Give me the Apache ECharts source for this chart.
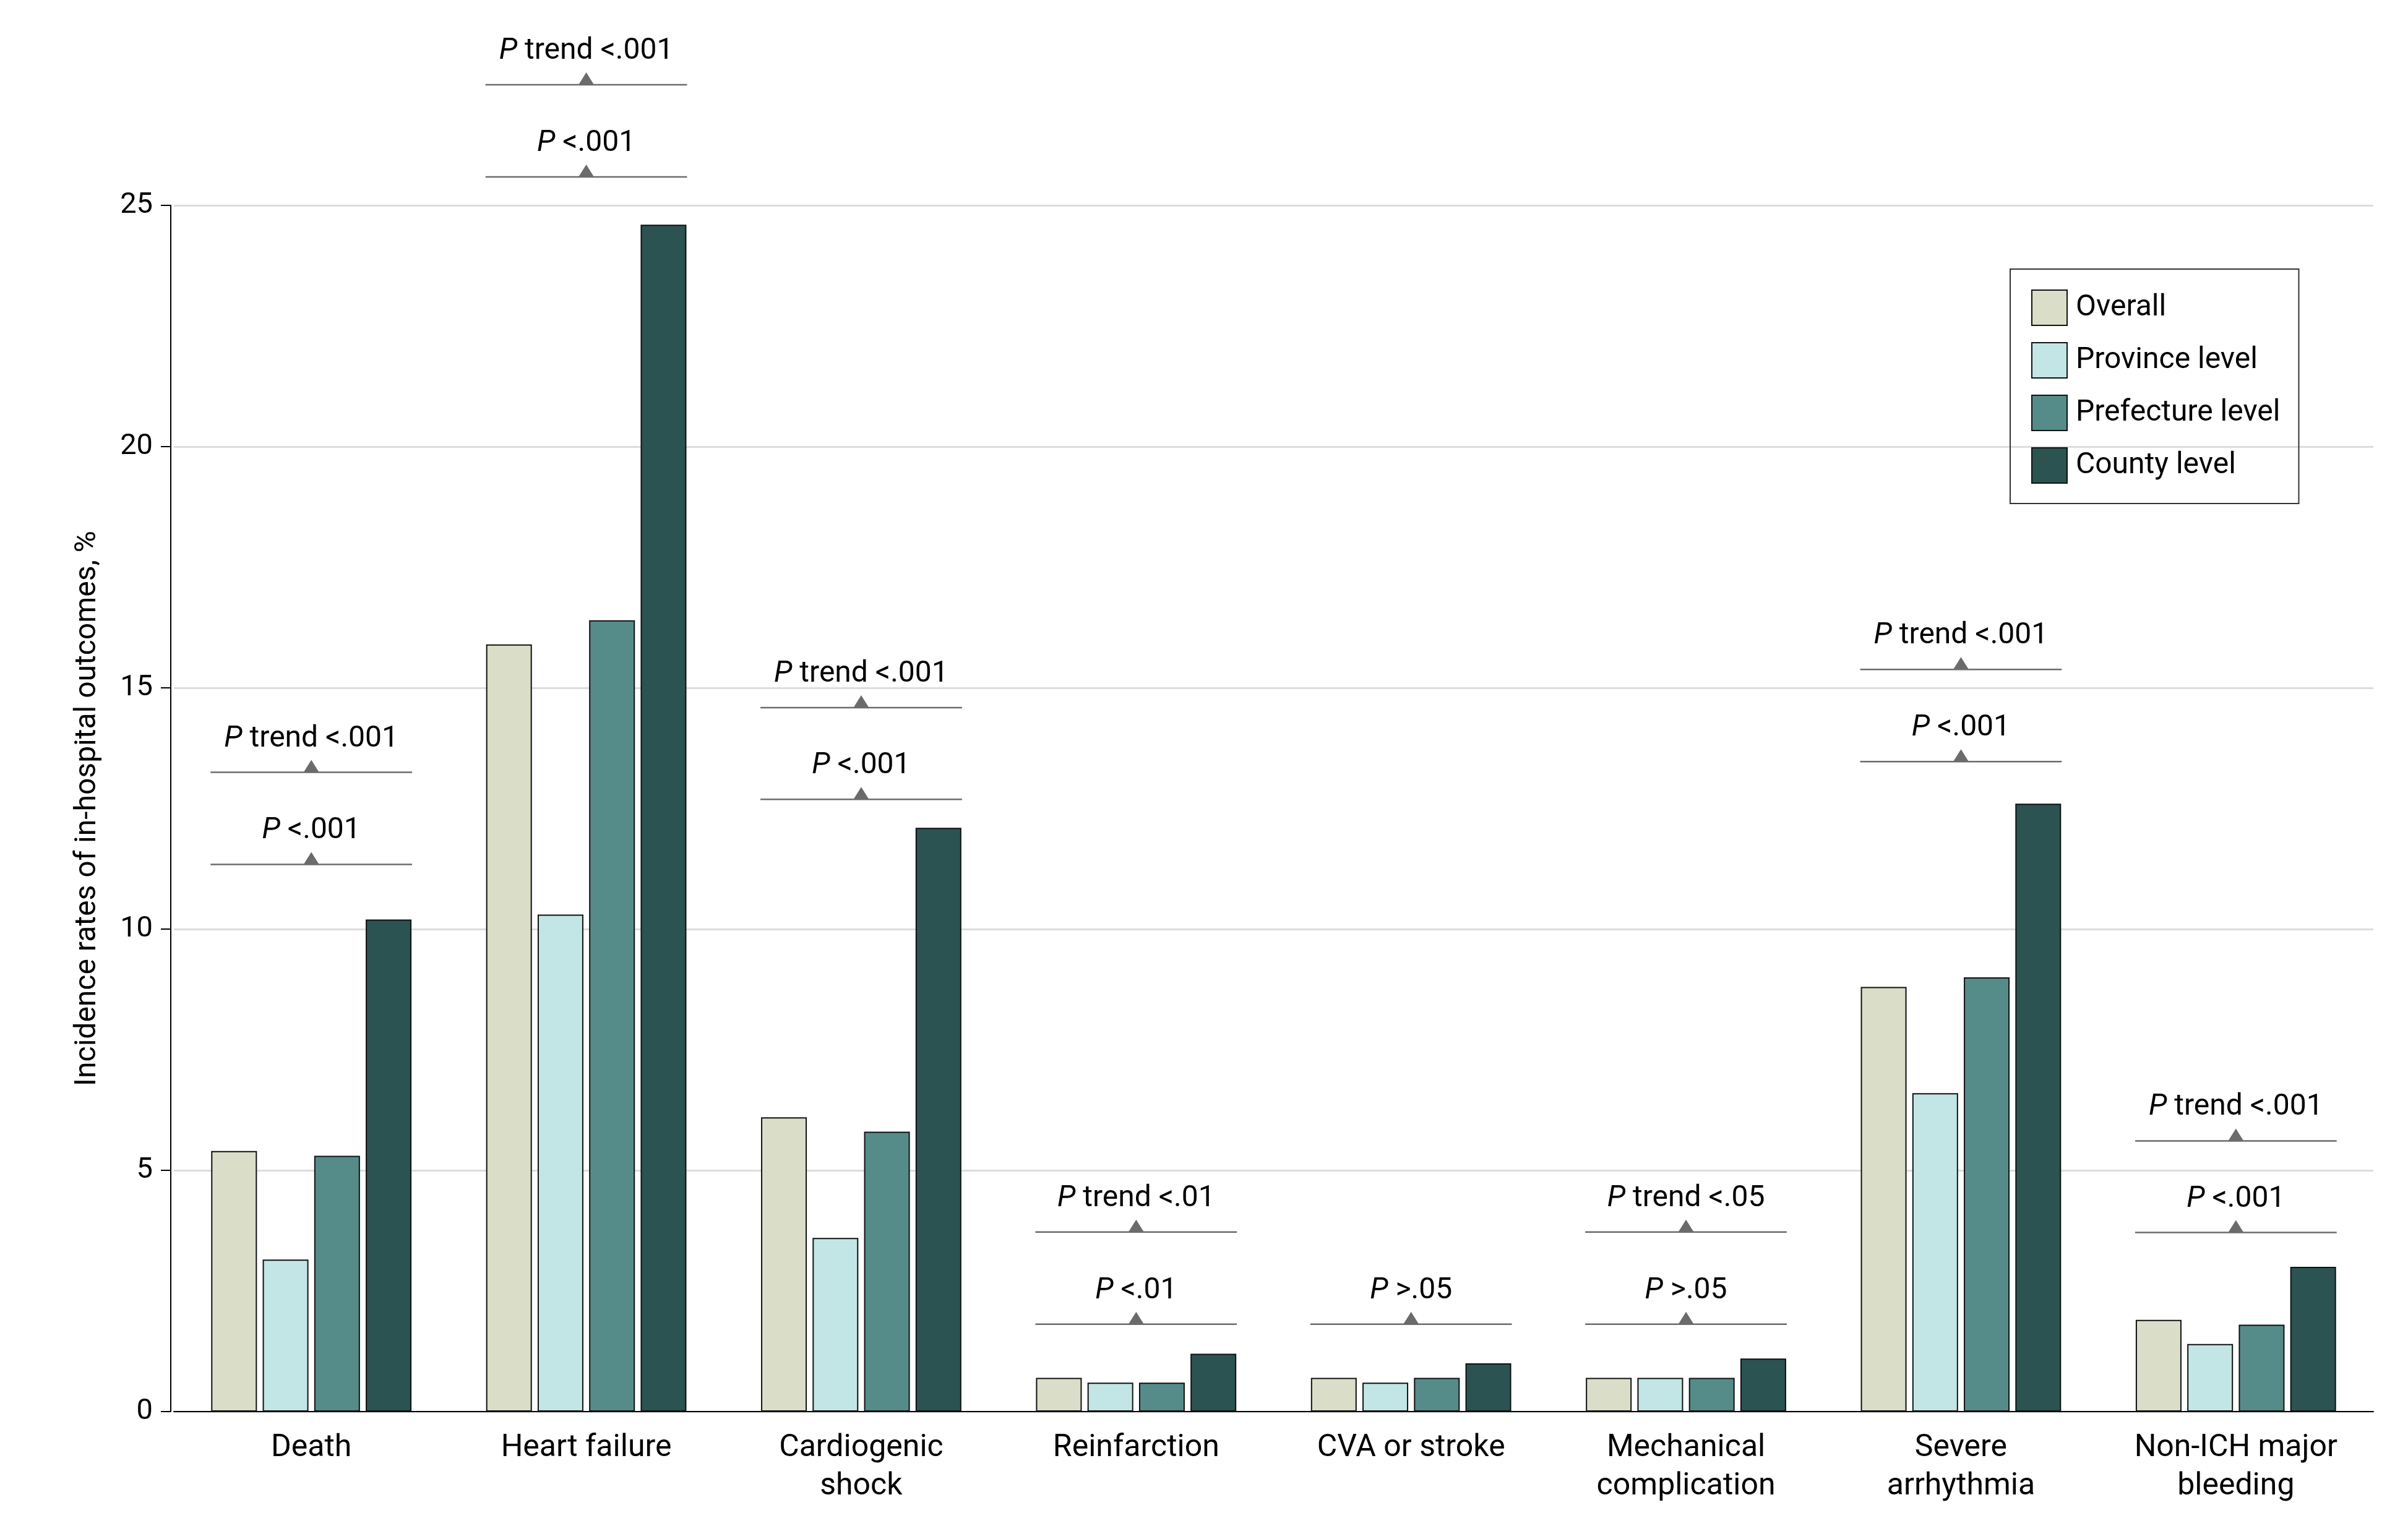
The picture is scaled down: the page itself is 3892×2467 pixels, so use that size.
<!DOCTYPE html>
<html><head><meta charset="utf-8">
<script src="https://cdn.jsdelivr.net/npm/echarts@6.0.0/dist/echarts.min.js"></script>
<style>html,body{margin:0;padding:0;background:#fff}#c{width:3892px;height:2467px}</style>
</head><body><div id="c"></div>
<script>
const categories = ['Death', 'Heart failure', 'Cardiogenic\nshock', 'Reinfarction', 'CVA or stroke', 'Mechanical\ncomplication', 'Severe\narrhythmia', 'Non-ICH major\nbleeding'];
const seriesNames = ['Overall', 'Province level', 'Prefecture level', 'County level'];
const overall    = [5.4, 15.9, 6.1, 0.7, 0.7, 0.7, 8.8, 1.9];
const province   = [3.15, 10.3, 3.6, 0.6, 0.6, 0.7, 6.6, 1.4];
const prefecture = [5.3, 16.4, 5.8, 0.6, 0.7, 0.7, 9.0, 1.8];
const county     = [10.2, 24.6, 12.1, 1.2, 1.0, 1.1, 12.6, 3.0];
const yTicks = [0, 5, 10, 15, 20, 25];
// significance annotations (level in % units, text)
const pLevelLower = [11.34, 25.59, 12.69, 1.81, 1.81, 1.81, 13.47, 3.71];
const pTextLower  = ['P <.001', 'P <.001', 'P <.001', 'P <.01', 'P >.05', 'P >.05', 'P <.001', 'P <.001'];
const pLevelUpper = [13.25, 27.5, 14.59, 3.72, null, 3.72, 15.38, 5.61];
const pTextUpper  = ['P trend <.001', 'P trend <.001', 'P trend <.001', 'P trend <.01', null, 'P trend <.05', 'P trend <.001', 'P trend <.001'];

const FONT = 'Roboto, "Noto Sans", sans-serif';
const colors = ['#dadec8', '#c1e6e5', '#558c8a', '#2a5352'];
const values = [overall, province, prefecture, county];

const annData = [];
categories.forEach((c, i) => {
  annData.push([i, pLevelLower[i], pTextLower[i]]);
  if (pLevelUpper[i] != null) annData.push([i, pLevelUpper[i], pTextUpper[i]]);
});

const BAR_W = 74, GAP_PCT = 12.5;
const GROUP_HALF = (4 * BAR_W + 3 * BAR_W * GAP_PCT / 100) / 2 + 1;

const chart = echarts.init(document.getElementById('c'), null, {renderer: 'canvas'});
const series = seriesNames.map((n, k) => ({
  type: 'bar', name: n, data: values[k], barWidth: BAR_W, barGap: GAP_PCT + '%',
  itemStyle: {color: colors[k], borderColor: '#111', borderWidth: 2},
  emphasis: {disabled: true}
}));
series.push({
  type: 'custom', data: annData.map(d => [d[0], d[1]]), clip: false, silent: true, z: 5,
  encode: {x: 0, y: 1},
  renderItem(params, api) {
    const p = api.coord([api.value(0), api.value(1)]);
    const txt = annData[params.dataIndex][2].replace(/^P/, '{i|P}');
    return {type: 'group', children: [
      {type: 'line', shape: {x1: p[0] - GROUP_HALF, y1: p[1], x2: p[0] + GROUP_HALF, y2: p[1]},
        style: {stroke: '#6b6b6b', lineWidth: 2.5}},
      {type: 'polygon', shape: {points: [[p[0] - 12.5, p[1]], [p[0] + 12.5, p[1]], [p[0], p[1] - 20]]},
        style: {fill: '#6b6b6b'}},
      {type: 'text', x: p[0], y: p[1] - 30, style: {
        text: txt, fontSize: 48, fontFamily: FONT, fill: '#000', align: 'center', verticalAlign: 'bottom',
        rich: {i: {fontStyle: 'italic', fontSize: 48, fontFamily: FONT, fill: '#000'}}
      }}
    ]};
  }
});

chart.setOption({
  animation: false,
  backgroundColor: '#fff',
  grid: {left: 281, right: 56, top: 332, bottom: 185, containLabel: false},
  legend: {
    data: seriesNames, orient: 'vertical', left: 3249, top: 435,
    padding: [33, 30, 32, 34], itemWidth: 57, itemHeight: 57, itemGap: 26,
    borderColor: '#333', borderWidth: 2, icon: 'rect',
    itemStyle: {borderColor: '#111', borderWidth: 2},
    textStyle: {fontSize: 48, fontFamily: FONT, color: '#000', padding: [0, 0, 0, 9]},
    selectedMode: false
  },
  xAxis: {
    type: 'category', data: categories,
    axisLine: {lineStyle: {color: '#000', width: 2}},
    axisTick: {show: false},
    axisLabel: {fontSize: 50, lineHeight: 62, color: '#000', margin: 28, fontFamily: FONT, interval: 0}
  },
  yAxis: {
    type: 'value', min: yTicks[0], max: yTicks[yTicks.length - 1], interval: yTicks[1] - yTicks[0], offset: 5,
    name: 'Incidence rates of in-hospital outcomes, %', nameLocation: 'middle', nameGap: 110, nameRotate: 90,
    nameTextStyle: {fontSize: 48, fontFamily: FONT, color: '#000'},
    axisLine: {show: true, lineStyle: {color: '#000', width: 2}},
    axisTick: {show: true, length: 16, lineStyle: {color: '#000', width: 2}},
    axisLabel: {fontSize: 47, color: '#000', margin: 29, fontFamily: FONT},
    splitLine: {lineStyle: {color: '#dcdcdc', width: 3}}
  },
  series: series
});
</script></body></html>
